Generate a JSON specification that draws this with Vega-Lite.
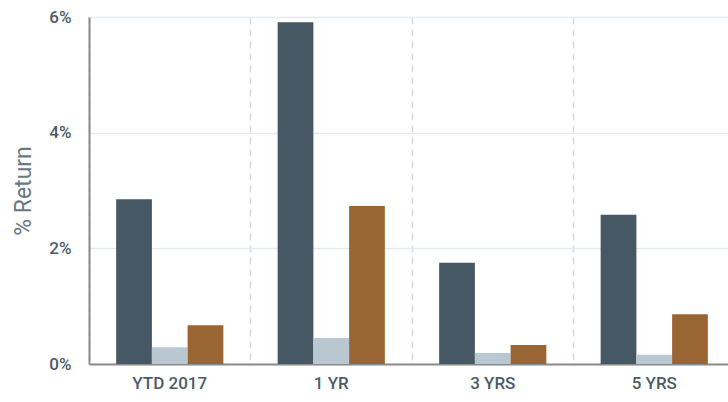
{
  "$schema": "https://vega.github.io/schema/vega-lite/v6.json",
  "width": 639,
  "height": 347,
  "autosize": {"type": "none"},
  "padding": {"left": 89, "top": 17, "right": 0, "bottom": 38},
  "background": "white",
  "config": {"view": {"stroke": null}},
  "data": {
    "values": [
      {"period": "YTD 2017", "series": "A", "value": 2.85},
      {"period": "YTD 2017", "series": "B", "value": 0.29},
      {"period": "YTD 2017", "series": "C", "value": 0.67},
      {"period": "1 YR", "series": "A", "value": 5.91},
      {"period": "1 YR", "series": "B", "value": 0.45},
      {"period": "1 YR", "series": "C", "value": 2.73},
      {"period": "3 YRS", "series": "A", "value": 1.75},
      {"period": "3 YRS", "series": "B", "value": 0.19},
      {"period": "3 YRS", "series": "C", "value": 0.33},
      {"period": "5 YRS", "series": "A", "value": 2.58},
      {"period": "5 YRS", "series": "B", "value": 0.16},
      {"period": "5 YRS", "series": "C", "value": 0.86}
    ]
  },
  "mark": {"type": "bar"},
  "encoding": {
    "x": {
      "field": "period",
      "type": "nominal",
      "sort": ["YTD 2017", "1 YR", "3 YRS", "5 YRS"],
      "scale": {"range": [0, 646], "paddingInner": 0, "paddingOuter": 0},
      "axis": {
        "title": null,
        "labelAngle": 0,
        "labelFont": "Roboto",
        "labelFontWeight": 500,
        "labelFontSize": 17,
        "labelColor": "#4b5c66",
        "labelPadding": 11,
        "ticks": false,
        "domainColor": "#8a8a8a",
        "domainWidth": 2,
        "grid": true,
        "bandPosition": 0,
        "gridColor": "#d6d6d6",
        "gridDash": [7, 5],
        "gridWidth": 1.5
      }
    },
    "xOffset": {
      "field": "series",
      "type": "nominal",
      "sort": ["A", "B", "C"],
      "scale": {"paddingInner": 0, "paddingOuter": 0.76}
    },
    "y": {
      "field": "value",
      "type": "quantitative",
      "scale": {"domain": [0, 6], "nice": false},
      "axis": {
        "title": "% Return",
        "titleFont": "Roboto",
        "titleFontWeight": "normal",
        "titleFontSize": 23,
        "titleColor": "#6a7880",
        "titlePadding": 13,
        "values": [0, 2, 4, 6],
        "labelExpr": "datum.value + '%'",
        "labelFont": "Roboto",
        "labelFontWeight": 500,
        "labelFontSize": 17,
        "labelColor": "#4b5c66",
        "labelPadding": 18,
        "ticks": false,
        "domainColor": "#8a8a8a",
        "domainWidth": 2,
        "gridColor": "#e3e9ee",
        "gridWidth": 1.5
      }
    },
    "color": {
      "field": "series",
      "type": "nominal",
      "scale": {"domain": ["A", "B", "C"], "range": ["#455863", "#b9c7d0", "#996533"]},
      "legend": null
    }
  }
}
